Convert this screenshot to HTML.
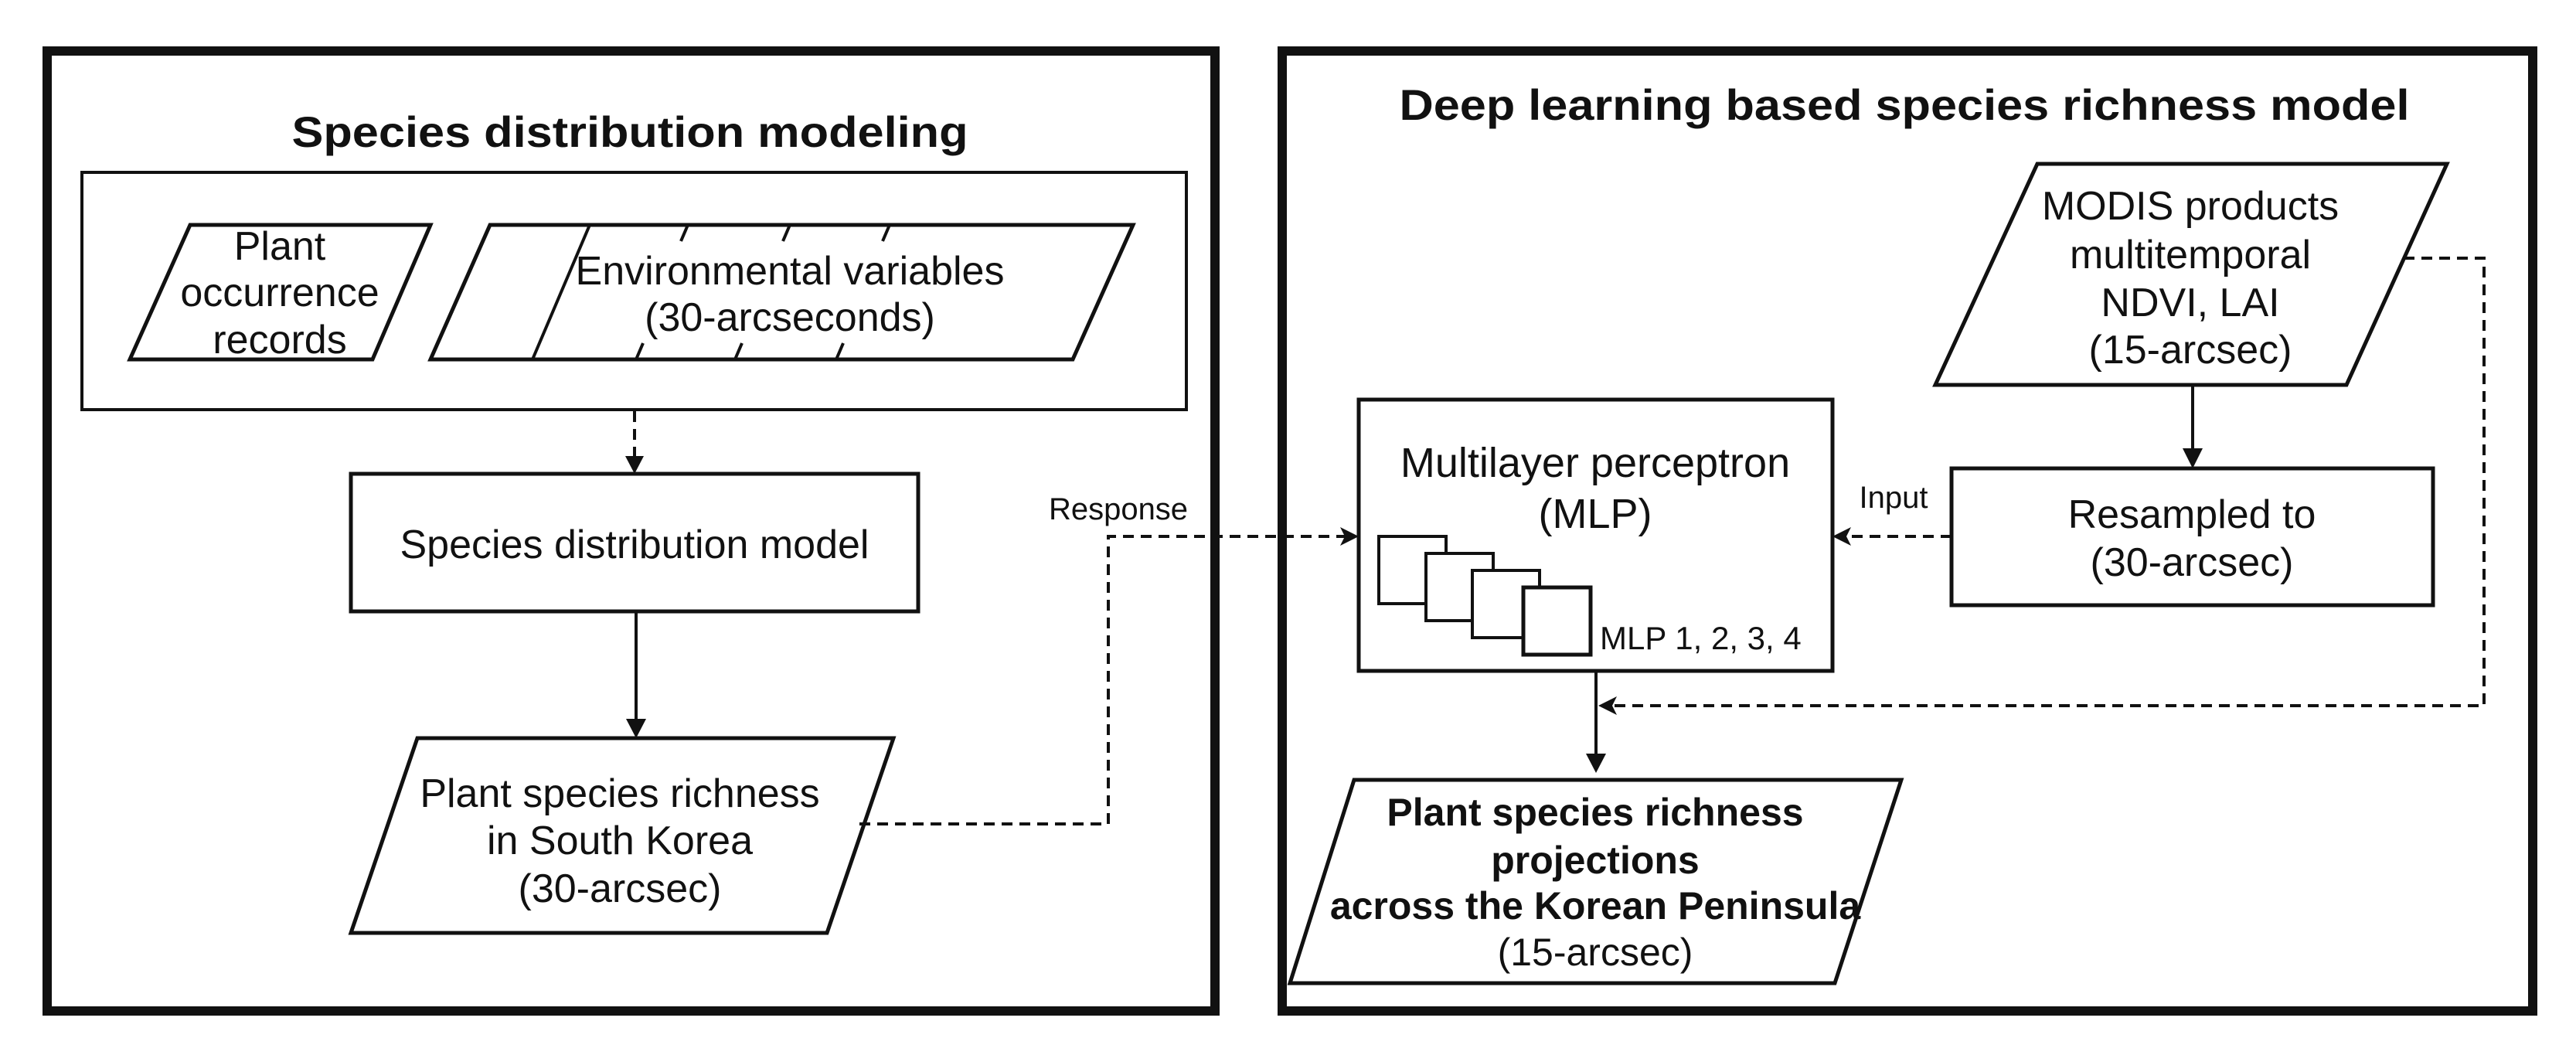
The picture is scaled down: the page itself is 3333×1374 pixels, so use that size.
<!DOCTYPE html>
<html><head><meta charset="utf-8"><style>
html,body{margin:0;padding:0;background:#fff;}
svg{display:block;}
text{font-family:"Liberation Sans",Arial,sans-serif;fill:#111;}
</style></head><body>
<svg width="3333" height="1374" viewBox="0 0 3333 1374" xmlns="http://www.w3.org/2000/svg">
<defs>
<marker id="ah" markerWidth="10" markerHeight="10" refX="9" refY="5" orient="auto" markerUnits="userSpaceOnUse" viewBox="0 0 10 10">
</marker>
</defs>
<rect x="0" y="0" width="3333" height="1374" fill="#fff"/>
<!-- outer boxes -->
<rect x="61" y="66" width="1511" height="1242" fill="none" stroke="#111" stroke-width="12"/>
<rect x="1659" y="66" width="1618" height="1242" fill="none" stroke="#111" stroke-width="12"/>
<!-- titles -->
<text x="815" y="190" font-size="56" font-weight="bold" text-anchor="middle" textLength="875" lengthAdjust="spacingAndGlyphs">Species distribution modeling</text>
<text x="2464" y="155" font-size="56" font-weight="bold" text-anchor="middle" textLength="1307" lengthAdjust="spacingAndGlyphs">Deep learning based species richness model</text>

<!-- inner box -->
<rect x="106" y="223" width="1429" height="307" fill="none" stroke="#111" stroke-width="4"/>
<!-- plant occurrence -->
<polygon points="246,291 557,291 482,465 168,465" fill="none" stroke="#111" stroke-width="5"/>
<text font-size="52" text-anchor="middle"><tspan x="362" y="336">Plant</tspan><tspan x="362" y="396">occurrence</tspan><tspan x="362" y="457">records</tspan></text>
<!-- env vars -->
<polygon points="634,291 1466,291 1388,465 557,465" fill="none" stroke="#111" stroke-width="5"/>
<line x1="763" y1="291" x2="689" y2="465" stroke="#111" stroke-width="4"/>
<line x1="890" y1="291" x2="881" y2="312" stroke="#111" stroke-width="4"/>
<line x1="1022" y1="291" x2="1013" y2="312" stroke="#111" stroke-width="4"/>
<line x1="1151" y1="291" x2="1142" y2="312" stroke="#111" stroke-width="4"/>
<line x1="823" y1="465" x2="832" y2="444" stroke="#111" stroke-width="4"/>
<line x1="951" y1="465" x2="960" y2="444" stroke="#111" stroke-width="4"/>
<line x1="1082" y1="465" x2="1091" y2="444" stroke="#111" stroke-width="4"/>
<text font-size="52" text-anchor="middle"><tspan x="1022" y="368">Environmental variables</tspan><tspan x="1022" y="428">(30-arcseconds)</tspan></text>

<!-- dashed arrow to SDM -->
<line x1="821" y1="532" x2="821" y2="596" stroke="#111" stroke-width="4" stroke-dasharray="14,9"/>
<polygon points="809,590 833,590 821,613" fill="#111"/>
<rect x="454" y="613" width="734" height="178" fill="none" stroke="#111" stroke-width="5"/>
<text x="821" y="722" font-size="52" text-anchor="middle">Species distribution model</text>
<!-- solid arrow -->
<line x1="823" y1="791" x2="823" y2="940" stroke="#111" stroke-width="4"/>
<polygon points="810,930 836,930 823,955" fill="#111"/>
<polygon points="540,955 1156,955 1070,1207 454,1207" fill="none" stroke="#111" stroke-width="5"/>
<text font-size="52" text-anchor="middle"><tspan x="802" y="1044">Plant species richness</tspan><tspan x="802" y="1105">in South Korea</tspan><tspan x="802" y="1167">(30-arcsec)</tspan></text>

<!-- response connector -->
<polyline points="1112,1066 1434,1066 1434,694 1740,694" fill="none" stroke="#111" stroke-width="4" stroke-dasharray="14,9"/>
<polygon points="1734,682 1758,694 1734,706 1740,694" fill="#111"/>
<text x="1447" y="672" font-size="40" text-anchor="middle">Response</text>

<!-- MLP -->
<rect x="1758" y="517" width="613" height="351" fill="none" stroke="#111" stroke-width="5"/>
<text font-size="54" text-anchor="middle"><tspan x="2064" y="617">Multilayer perceptron</tspan><tspan x="2064" y="683">(MLP)</tspan></text>
<rect x="1784" y="694" width="87" height="87" fill="#fff" stroke="#111" stroke-width="4"/>
<rect x="1845" y="716" width="87" height="87" fill="#fff" stroke="#111" stroke-width="4"/>
<rect x="1905" y="738" width="87" height="87" fill="#fff" stroke="#111" stroke-width="4"/>
<rect x="1971" y="760" width="87" height="87" fill="#fff" stroke="#111" stroke-width="5"/>
<text x="2070" y="840" font-size="42">MLP 1, 2, 3, 4</text>

<!-- MODIS -->
<polygon points="2636,212 3166,212 3036,498 2504,498" fill="none" stroke="#111" stroke-width="5"/>
<text font-size="52" text-anchor="middle"><tspan x="2834" y="284">MODIS products</tspan><tspan x="2834" y="347">multitemporal</tspan><tspan x="2834" y="409">NDVI, LAI</tspan><tspan x="2834" y="470">(15-arcsec)</tspan></text>
<line x1="2837" y1="498" x2="2837" y2="590" stroke="#111" stroke-width="4"/>
<polygon points="2824,580 2850,580 2837,606" fill="#111"/>
<rect x="2525" y="606" width="623" height="177" fill="none" stroke="#111" stroke-width="5"/>
<text font-size="52" text-anchor="middle"><tspan x="2836" y="683">Resampled to</tspan><tspan x="2836" y="745">(30-arcsec)</tspan></text>
<!-- input -->
<line x1="2525" y1="694" x2="2388" y2="694" stroke="#111" stroke-width="4" stroke-dasharray="14,9"/>
<polygon points="2395,682 2371,694 2395,706 2389,694" fill="#111"/>
<text x="2450" y="657" font-size="40" text-anchor="middle">Input</text>

<!-- MODIS dashed loop -->
<polyline points="3110,334 3214,334 3214,913 2084,913" fill="none" stroke="#111" stroke-width="4" stroke-dasharray="14,9"/>
<polygon points="2092,901 2068,913 2092,925 2086,913" fill="#111"/>

<!-- MLP to output -->
<line x1="2065" y1="868" x2="2065" y2="985" stroke="#111" stroke-width="4"/>
<polygon points="2052,975 2078,975 2065,1000" fill="#111"/>
<polygon points="1752,1009 2460,1009 2374,1272 1669,1272" fill="none" stroke="#111" stroke-width="5"/>
<text font-size="50" text-anchor="middle"><tspan x="2064" y="1068" font-weight="bold">Plant species richness</tspan><tspan x="2064" y="1130" font-weight="bold">projections</tspan><tspan x="2064" y="1189" font-weight="bold">across the Korean Peninsula</tspan><tspan x="2064" y="1249">(15-arcsec)</tspan></text>
</svg>
</body></html>
